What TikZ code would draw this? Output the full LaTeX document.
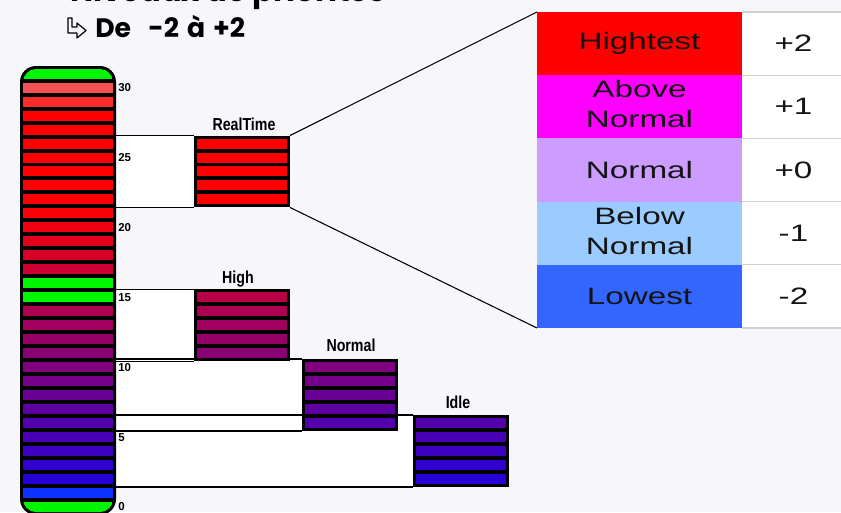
\documentclass[tikz,border=0pt]{standalone}
\usepackage{fontspec}
\usepackage{graphicx}
\setmainfont{Liberation Sans}
\newfontfamily\headfont{Poppins}
\pgfdeclarelayer{paper}
\pgfdeclarelayer{under}
\pgfsetlayers{paper,under,main}
\definecolor{paperbg}{HTML}{F6F6FB}
\definecolor{slotgreen}{HTML}{00F500}
\definecolor{slotsalmon}{HTML}{F25252}
\definecolor{slotlight}{HTML}{FF2C2C}
\definecolor{slotblue}{HTML}{0C30FF}
\definecolor{prioHi}{HTML}{FE0000}
\definecolor{prioAbove}{HTML}{FF00FF}
\definecolor{prioNormal}{HTML}{CC9CFF}
\definecolor{prioBelow}{HTML}{9CCCFF}
\definecolor{prioLow}{HTML}{3366FF}
% vertical centre (in px) of priority level #1
\newcommand\levy[1]{(507-13.98*(#1))}
\newcommand\wide[1]{\scalebox{1.4}[1]{#1}}
\newcommand\narrow[1]{\scalebox{0.82}[1]{#1}}
% colour of a level on the red-to-blue ramp
\newcommand\rampcolor[1]{%
  \pgfmathsetmacro\rampp{min(100,((#1)+1.5)/23*100)}%
  \colorlet{slotcol}{red!\rampp!blue}}
\begin{document}
\begin{tikzpicture}[x=0.75pt,y=-0.75pt,
  groupbox/.style={fill=black, inner sep=0pt, outer sep=0pt,
    minimum width=72pt, minimum height=53.94pt},
  grouplabel/.style={anchor=base, inner sep=0pt,
    font=\bfseries\fontsize{13}{14}\selectfont},
  levnum/.style={anchor=west, inner sep=0pt,
    font=\bfseries\fontsize{8.6}{9}\selectfont},
  link/.style={black, line width=1.1pt},
  zoomline/.style={black, line width=0.8pt},
  pcell/.style={anchor=north west, inner sep=0pt, outer sep=0pt,
    minimum width=153.75pt, minimum height=47.4pt, text=black!92,
    font=\fontsize{17.8}{22.5}\selectfont},
  vcell/.style={pcell, fill=white, minimum width=77.25pt},
  rowrule/.style={black!18, line width=0.8pt}
]
\useasboundingbox (0,0) rectangle (841,512);
\clip (0,0) rectangle (841,512);
\begin{pgfonlayer}{paper}
  \fill[paperbg] (0,0) rectangle (841,512);
\end{pgfonlayer}

% heading lines
\node[anchor=base west, inner sep=0pt,
  font=\headfont\bfseries\fontsize{23}{26}\selectfont] (title) at (70,1.5) {Niveaux de priorités};
\draw[line width=0.9pt, line join=round] (68,18) -- (72,18) -- (72,27) -- (77,27) -- (77,23)
  -- (86,30.5) -- (77,38) -- (77,33) -- (68,33) -- cycle;
\node[anchor=base west, inner sep=0pt,
  font=\headfont\bfseries\fontsize{20}{24}\selectfont] (sub) at (95,37)
  {De\hspace{13pt}-2\hspace{6pt}à\hspace{6pt}+2};

% the priority tube
\node[fill=black, rounded corners=12pt, inner sep=0pt, outer sep=0pt,
  minimum width=72pt, minimum height=336.75pt] (tube) at (68,290.5) {};
\begin{scope}
  \clip[rounded corners=9.75pt] (23,69) rectangle (113,512);
  \fill[slotgreen] (23,60) rectangle (113,{\levy{31}+5});
  \fill[slotgreen] (23,{\levy{0}-5}) rectangle (113,520);
  \foreach \L in {1,...,30}{
    \rampcolor{\L}
    \ifnum\L=30 \colorlet{slotcol}{slotsalmon}\fi
    \ifnum\L=29 \colorlet{slotcol}{slotlight}\fi
    \ifnum\L=16 \colorlet{slotcol}{slotgreen}\fi
    \ifnum\L=15 \colorlet{slotcol}{slotgreen}\fi
    \ifnum\L=1 \colorlet{slotcol}{slotblue}\fi
    \fill[slotcol] (23,{\levy{\L}-5}) rectangle (113,{\levy{\L}+5});
  }
\end{scope}
\foreach \n in {0,5,...,30}
  \node[levnum] (lv\n) at (118,{\levy{\n}}) {\n};

% the four priority classes, five levels each
\foreach \name/\xc/\top in {rt/242/26, hi/242/15, no/350/10, id/461/6}{
  \node[groupbox] (\name) at (\xc,{\levy{\top-2}}) {};
  \foreach \k in {0,...,4}{
    \pgfmathtruncatemacro\L{\top-\k}
    \rampcolor{\L}
    \fill[slotcol] (\xc-45,{\levy{\L}-5}) rectangle (\xc+45,{\levy{\L}+5});
  }
}
\node[grouplabel] (rtlab) at (244,130) {\narrow{RealTime}};
\node[grouplabel] (hilab) at (238,283) {\narrow{High}};
\node[grouplabel] (nolab) at (351,351) {\narrow{Normal}};
\node[grouplabel] (idlab) at (458,408) {\narrow{Idle}};

% spans from the tube to each class
\begin{pgfonlayer}{under}
  \foreach \name in {id,no,hi,rt}
    \fill[white] (tube.east |- \name.north west) rectangle (\name.south west);
  \foreach \name in {id,no,hi,rt}{
    \draw[link] (tube.east |- \name.north west) -- (\name.north west);
    \draw[link] (tube.east |- \name.south west) -- (\name.south west);
  }
\end{pgfonlayer}

% relative priorities within a class
\node[pcell, fill=prioHi] (t2) at (537,12) {\wide{Hightest}};
\node[pcell, fill=prioAbove] (t1) at (t2.south west)
  {\wide{\begin{tabular}{@{}c@{}}Above\\Normal\end{tabular}}};
\node[pcell, fill=prioNormal] (t0) at (t1.south west) {\wide{Normal}};
\node[pcell, fill=prioBelow] (tm1) at (t0.south west)
  {\wide{\begin{tabular}{@{}c@{}}Below\\Normal\end{tabular}}};
\node[pcell, fill=prioLow] (tm2) at (tm1.south west) {\wide{Lowest}};
\node[vcell] (v2) at (t2.north east) {\wide{+2}};
\node[vcell] (v1) at (t1.north east) {\wide{+1}};
\node[vcell] (v0) at (t0.north east) {\wide{+0}};
\node[vcell] (vm1) at (tm1.north east) {\wide{-1}};
\node[vcell] (vm2) at (tm2.north east) {\wide{-2}};
\foreach \v in {v2,v1,v0,vm1,vm2}
  \draw[rowrule] (\v.north west) -- (\v.north east);
\draw[rowrule] (vm2.south west) -- (vm2.south east);

\draw[zoomline] (rt.north east) -- (t2.north west);
\draw[zoomline] (rt.south east) -- (tm2.south west);
\end{tikzpicture}
\end{document}
